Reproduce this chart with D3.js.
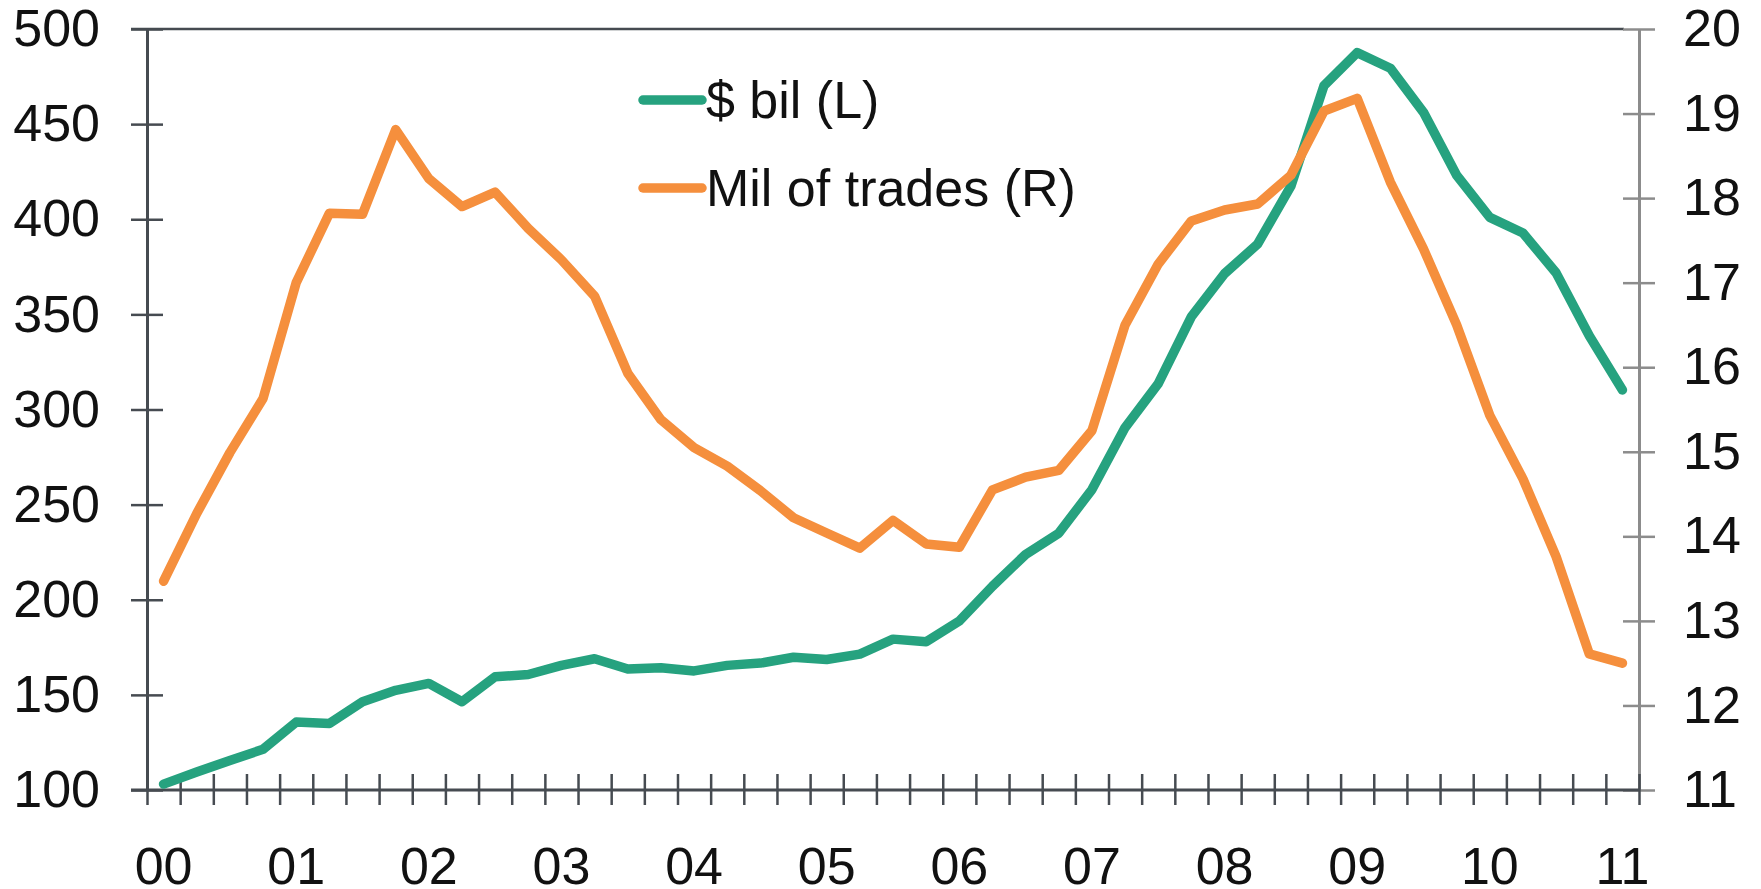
<!DOCTYPE html>
<html>
<head>
<meta charset="utf-8">
<script src="https://cdn.jsdelivr.net/npm/d3@7"></script>
<style>
    body { margin: 0; background: #fff; }
    svg { display: block; font-family: "Liberation Sans", Arial, sans-serif; }
</style>
</head>
<body>
<svg width="1761" height="889"></svg>
<script>
// quarterly, 2000Q1 .. 2011Q1
var quarters = [
    '00Q1', '00Q2', '00Q3', '00Q4', '01Q1', '01Q2', '01Q3', '01Q4',
    '02Q1', '02Q2', '02Q3', '02Q4', '03Q1', '03Q2', '03Q3', '03Q4',
    '04Q1', '04Q2', '04Q3', '04Q4', '05Q1', '05Q2', '05Q3', '05Q4',
    '06Q1', '06Q2', '06Q3', '06Q4', '07Q1', '07Q2', '07Q3', '07Q4',
    '08Q1', '08Q2', '08Q3', '08Q4', '09Q1', '09Q2', '09Q3', '09Q4',
    '10Q1', '10Q2', '10Q3', '10Q4', '11Q1'
]
var yearLabels = ['00', '01', '02', '03', '04', '05', '06', '07', '08', '09', '10', '11']

var dollarsBil = [
    103.1, 109.5, 115.5, 121.4, 135.7, 135.0, 146.4, 152.4, 156.0, 146.4,
    159.5, 160.7, 165.5, 169.0, 163.6, 164.3, 162.6, 165.5, 166.7, 169.8,
    168.6, 171.4, 179.3, 177.9, 188.8, 207.1, 223.8, 235.0, 257.9, 290.5,
    313.6, 348.8, 371.4, 387.0, 417.4, 470.3, 487.6, 479.4, 456.2, 423.1,
    401.0, 392.8, 371.8, 338.8, 310.3
]
var tradesMil = [
    13.47, 14.27, 14.99, 15.63, 17.00, 17.82, 17.81, 18.81, 18.23, 17.90,
    18.07, 17.64, 17.27, 16.84, 15.93, 15.38, 15.05, 14.83, 14.54, 14.22,
    14.04, 13.86, 14.19, 13.91, 13.87, 14.55, 14.70, 14.78, 15.25, 16.50,
    17.22, 17.73, 17.86, 17.93, 18.27, 19.03, 19.18, 18.19, 17.40, 16.50,
    15.43, 14.68, 13.76, 12.61, 12.50
]
var leftTicks = [100, 150, 200, 250, 300, 350, 400, 450, 500]
var rightTicks = [11, 12, 13, 14, 15, 16, 17, 18, 19, 20]

var series = [
    { name: '$ bil (L)', values: dollarsBil, side: 'L', color: '#26a27f' },
    { name: 'Mil of trades (R)', values: tradesMil, side: 'R', color: '#f58f3d' }
]

var svg = d3.select('svg')
var plotL = 147, plotR = 1639, plotT = 29, plotB = 790
var darkAxis = '#464b51', lightAxis = '#8c8c8c'

var x = d3.scaleBand().domain(quarters).range([plotL, plotR])
var xEdge = d3.scaleLinear().domain([0, quarters.length]).range([plotL, plotR])
var yL = d3.scaleLinear().domain([100, 500]).range([plotB, plotT])
var yR = d3.scaleLinear().domain([11, 20]).range([plotB, plotT])

// top border
svg.append('line')
    .attr('x1', plotL - 16).attr('x2', plotR - 15)
    .attr('y1', plotT).attr('y2', plotT)
    .style('stroke', darkAxis).style('stroke-width', 2.5)

// left axis
var gL = svg.append('g')
    .attr('transform', 'translate(' + plotL + ',0)')
    .call(d3.axisLeft(yL).tickValues(leftTicks).tickSizeInner(16).tickSizeOuter(0).tickPadding(31))
gL.select('.domain').style('stroke', darkAxis).style('stroke-width', 3)
gL.selectAll('.tick line').attr('x2', 16).attr('x1', -16)
    .style('stroke', darkAxis).style('stroke-width', 2.5)
gL.selectAll('.tick text').style('font-size', '52px').style('fill', '#111').attr('x', -47)

// right axis
var gR = svg.append('g')
    .attr('transform', 'translate(' + plotR + ',0)')
    .call(d3.axisRight(yR).tickValues(rightTicks).tickSizeInner(16).tickSizeOuter(0).tickPadding(31))
gR.select('.domain').style('stroke', lightAxis).style('stroke-width', 3)
gR.selectAll('.tick line').attr('x1', -16).attr('x2', 16)
    .style('stroke', lightAxis).style('stroke-width', 2.5)
gR.selectAll('.tick text').style('font-size', '52px').style('fill', '#111').attr('x', 44)

// bottom axis, ticks on quarter boundaries
var gB = svg.append('g')
    .attr('transform', 'translate(0,' + plotB + ')')
    .call(d3.axisBottom(xEdge).tickValues(d3.range(quarters.length + 1)).tickSizeInner(15).tickSizeOuter(0).tickFormat(''))
gB.select('.domain').style('stroke', darkAxis).style('stroke-width', 3)
    .attr('d', 'M' + (plotL - 16) + ',0H' + plotR)
gB.selectAll('.tick line').attr('y1', -16).attr('y2', 15)
    .style('stroke', darkAxis).style('stroke-width', 2.5)

// year labels under the first quarter of each year
svg.append('g')
    .selectAll('text')
    .data(yearLabels)
    .join('text')
    .attr('x', d => x(d + 'Q1') + x.bandwidth() / 2)
    .attr('y', 884)
    .attr('text-anchor', 'middle')
    .style('font-size', '52px')
    .style('fill', '#111')
    .text(d => d)

// lines
series.forEach(s => {
    var yScale = s.side === 'L' ? yL : yR
    var line = d3.line()
        .x((d, i) => x(quarters[i]) + x.bandwidth() / 2)
        .y(d => yScale(d))
    svg.append('path')
        .datum(s.values)
        .attr('d', line)
        .style('fill', 'none')
        .style('stroke', s.color)
        .style('stroke-width', 9.5)
        .style('stroke-linejoin', 'round')
        .style('stroke-linecap', 'round')
})

// legend
var lg = svg.append('g').attr('transform', 'translate(643,100)')
series.forEach((s, i) => {
    var row = lg.append('g').attr('transform', 'translate(0,' + (i * 88) + ')')
    row.append('line')
        .attr('x1', 0).attr('x2', 59)
        .style('stroke', s.color)
        .style('stroke-width', 9.5)
        .style('stroke-linecap', 'round')
    row.append('text')
        .attr('x', 63)
        .attr('dy', '0.35em')
        .style('font-size', '52px')
        .style('fill', '#111')
        .text(s.name)
})
</script>
</body>
</html>
